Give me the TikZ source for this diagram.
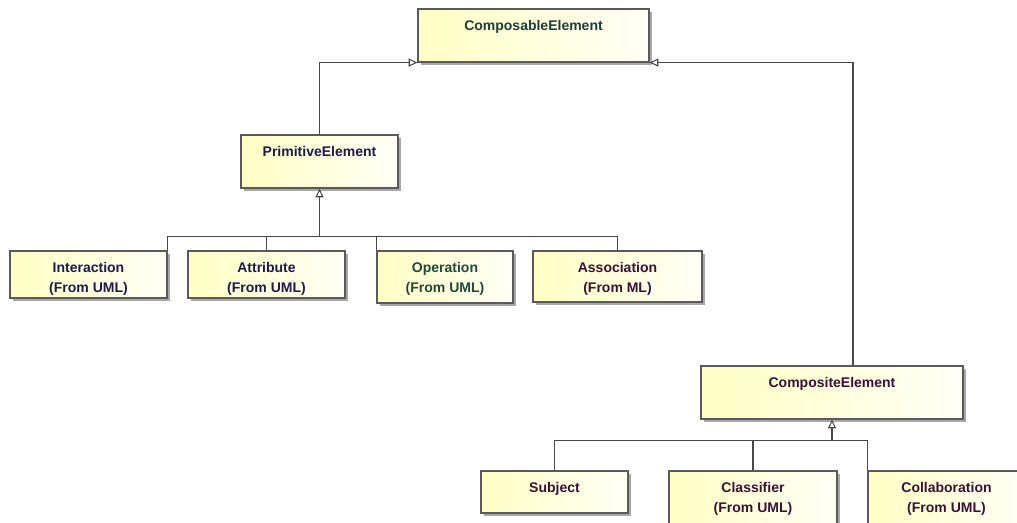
\documentclass[tikz,border=0pt]{standalone}
\usepackage{xcolor}
\usepackage{fontspec}
\setmainfont{Liberation Sans}
\usepackage{tikz}
\usetikzlibrary{arrows.meta,calc,shadows}
\definecolor{boxline}{HTML}{5A5A5A}
\definecolor{wire}{HTML}{484848}
\definecolor{boxleft}{HTML}{FFFFC4}
\definecolor{boxright}{HTML}{FFFFF6}
\definecolor{shade}{HTML}{A8A8A8}
\definecolor{teal}{HTML}{1B3D3D}
\definecolor{navy}{HTML}{1A1A50}
\definecolor{pine}{HTML}{1C4B3C}
\definecolor{plum}{HTML}{3C0F37}
\tikzset{
  elem/.style={rectangle, draw=boxline, line width=0.9pt, left color=boxleft, right color=boxright,
    drop shadow={shadow xshift=2.4pt, shadow yshift=-2.4pt, fill=shade, opacity=1}, inner sep=0pt},
  elemtext/.style={font=\fontsize{10.5}{15}\selectfont\bfseries, align=center, inner sep=0pt, anchor=north},
  gen/.style={-{Triangle[open, length=6.5pt, width=6pt]}, line width=0.8pt, draw=wire},
  wirel/.style={line width=0.8pt, draw=wire}
}
\newcommand{\ElemBox}[7]{% name, x1, y1, x2, y2, colour, text
  \node[elem, minimum width={(#4-#2)*0.75pt}, minimum height={(#5-#3)*0.75pt}] (#1) at ({(#2+#4)/2},{(#3+#5)/2}) {};
  \node[elemtext, text=#6] (#1-t) at ([yshift=-12*0.75pt]#1.north) {#7};
}

\begin{document}
\begin{tikzpicture}[x=0.75pt, y=-0.75pt]
  \useasboundingbox (0,0) rectangle (1017,522);
  \clip (0,0) rectangle (1017,522);
  \ElemBox{compos}{418}{9}{649}{62}{teal}{ComposableElement}
  \ElemBox{prim}{241}{135}{398}{188}{navy}{PrimitiveElement}
  \ElemBox{inter}{10}{251}{167}{298}{navy}{Interaction\\(From UML)}
  \ElemBox{attr}{188}{251}{345}{298}{navy}{Attribute\\(From UML)}
  \ElemBox{oper}{377}{251}{513}{303}{pine}{Operation\\(From UML)}
  \ElemBox{assoc}{533}{251}{702}{302}{plum}{Association\\(From ML)}
  \ElemBox{composite}{701}{366}{963}{419}{plum}{CompositeElement}
  \ElemBox{subj}{481}{471}{628}{513}{plum}{Subject}
  \ElemBox{classi}{669}{471}{837}{540}{plum}{Classifier\\(From UML)}
  \ElemBox{collab}{868}{471}{1025}{540}{plum}{Collaboration\\(From UML)}

  % up to ComposableElement
  \draw[gen] (prim.north) |- (compos.south west);
  \draw[gen] ([xshift=21*0.75pt]composite.north) |- (compos.south east);

  % PrimitiveElement tree
  \coordinate (pbar) at ([yshift=-48*0.75pt]prim.south);
  \draw[gen] (pbar) -- (prim.south);
  \draw[wirel] (inter.north east) |- (pbar);
  \draw[wirel] (attr.north) |- (pbar);
  \draw[wirel] (oper.north west) |- (pbar);
  \draw[wirel] (assoc.north) |- (pbar);

  % CompositeElement tree
  \coordinate (cbar) at ([yshift=-21*0.75pt]composite.south);
  \draw[gen] (cbar) -- (composite.south);
  \draw[wirel] (subj.north) |- (cbar);
  \draw[wirel] (classi.north) |- (cbar);
  \draw[wirel] (collab.north west) |- (cbar);
\end{tikzpicture}
\end{document}
